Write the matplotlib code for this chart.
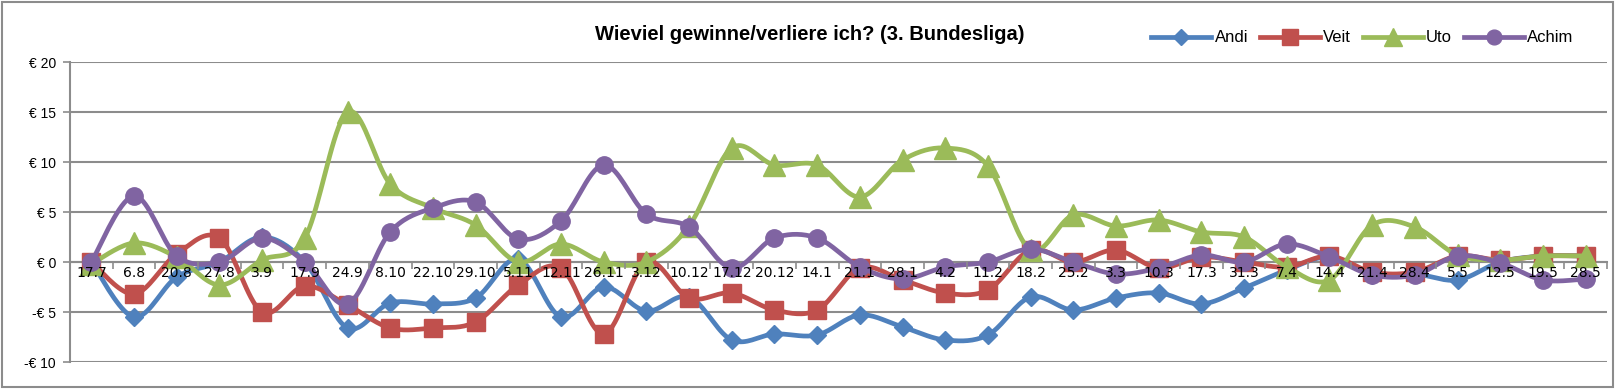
import matplotlib
matplotlib.use("Agg")
import matplotlib.pyplot as plt
from matplotlib.lines import Line2D
from matplotlib.patches import Rectangle
from matplotlib.ticker import FixedLocator
import numpy as np

# data
dates = ['17.7', '6.8', '20.8', '27.8', '3.9', '17.9', '24.9', '8.10', '22.10', '29.10',
         '5.11', '12.11', '26.11', '3.12', '10.12', '17.12', '20.12', '14.1', '21.1', '28.1',
         '4.2', '11.2', '18.2', '25.2', '3.3', '10.3', '17.3', '31.3', '7.4', '14.4',
         '21.4', '28.4', '5.5', '12.5', '19.5', '28.5']

andi = [0, -5.5, -1.5, 0, 2.5, 0, -6.6, -4.1, -4.2, -3.6,
        0.3, -5.5, -2.5, -4.9, -3.5, -7.8, -7.2, -7.3, -5.3, -6.5,
        -7.8, -7.3, -3.5, -4.8, -3.6, -3.1, -4.2, -2.6, -0.8, 0.5,
        -1.3, -1.2, -1.8, 0, 0.6, 0.6]
veit = [0, -3.2, 0.8, 2.4, -5.0, -2.4, -4.3, -6.6, -6.6, -6.0,
        -2.3, -0.6, -7.2, 0, -3.6, -3.1, -4.8, -4.8, -0.6, -1.8,
        -3.1, -2.8, 1.2, 0, 1.2, -0.6, 0.5, 0, -0.5, 0.6,
        -1.0, -1.0, 0.6, 0.2, 0.6, 0.6]
uto = [-0.2, 1.9, 0.5, -2.3, 0.2, 2.4, 15.0, 7.8, 5.4, 3.7,
       0, 1.8, 0, 0, 3.6, 11.4, 9.7, 9.7, 6.5, 10.2,
       11.4, 9.6, 1.2, 4.7, 3.6, 4.2, 3.0, 2.5, -0.5, -1.8,
       3.7, 3.5, 0.7, 0.2, 0.6, 0.6]
achim = [0, 6.6, 0.6, 0, 2.4, 0, -4.2, 3.0, 5.4, 6.0,
         2.3, 4.1, 9.7, 4.8, 3.5, -0.6, 2.4, 2.4, -0.5, -1.7,
         -0.5, 0, 1.3, 0, -1.2, -0.6, 0.7, 0, 1.8, 0.5,
         -1.3, -1.3, 0.6, -0.1, -1.8, -1.7]

names = ['Andi', 'Veit', 'Uto', 'Achim']
values = [andi, veit, uto, achim]
colors = ['#4F81BD', '#C0504D', '#9BBB59', '#8064A2']
markers = ['D', 's', '^', 'o']
msizes = [9.5, 13.5, 15.5, 12.5]

yticks = [-10, -5, 0, 5, 10, 15, 20]
ylabels = ['-€ 10', '-€ 5', '€ 0', '€ 5', '€ 10', '€ 15', '€ 20']


def smooth(xs, ys, n=20):
    # Excel-style smoothed line (bezier, catmull-rom control points)
    P = np.column_stack([xs, ys]).astype(float)
    P = np.vstack([P[0], P, P[-1]])
    t = np.linspace(0, 1, n)[:, None]
    segs = []
    for i in range(1, len(P) - 2):
        p0, p1, p2, p3 = P[i - 1], P[i], P[i + 1], P[i + 2]
        c1 = p1 + (p2 - p0) / 6
        c2 = p2 - (p3 - p1) / 6
        segs.append((1 - t) ** 3 * p1 + 3 * (1 - t) ** 2 * t * c1
                    + 3 * (1 - t) * t ** 2 * c2 + t ** 3 * p2)
    return np.vstack(segs)


fig = plt.figure(figsize=(16.16, 3.89), dpi=100)
ax = fig.add_axes([70 / 1616, 1 - 362 / 389, 1537 / 1616, 300 / 389])

x = np.arange(len(dates))
for k, (vals, c, m, ms) in enumerate(zip(values, colors, markers, msizes)):
    curve = smooth(x, vals)
    ax.plot(curve[:, 0], curve[:, 1], color=c, lw=3.4, zorder=3 + 2 * k,
            solid_capstyle='round')
    ax.plot(x, vals, ls='none', marker=m, ms=ms, color=c, mec=c, zorder=4 + 2 * k)

ax.set_xlim(-0.5, len(dates) - 0.5)
ax.set_ylim(-10, 20)
ax.set_yticks(yticks)
ax.set_yticklabels(ylabels, fontsize=10, family='Liberation Sans')
ax.tick_params(axis='y', length=5, width=1.2, color='#8C8C8C', pad=5)
ax.yaxis.grid(True, color='#8C8C8C', lw=1.5)
ax.set_axisbelow(True)

ax.set_xticks(x)
ax.set_xticklabels(dates, fontsize=11, family='Lato')
ax.xaxis.set_minor_locator(FixedLocator(np.arange(-0.5, len(dates), 1)))
ax.tick_params(axis='x', which='major', length=0, pad=3)
ax.tick_params(axis='x', which='minor', length=5, width=1.2, color='#8C8C8C')
# category labels sit on top of the lines, as in the original
ax.xaxis.set_zorder(20)

for s in ['top', 'right']:
    ax.spines[s].set_visible(False)
ax.spines['bottom'].set_position(('data', 0))
ax.spines['bottom'].set_color('#8C8C8C')
ax.spines['bottom'].set_linewidth(1.5)
ax.spines['bottom'].set_zorder(1)
ax.spines['left'].set_color('#8C8C8C')
ax.spines['left'].set_linewidth(1.5)

fig.text(810 / 1616, 1 - 34 / 389, 'Wieviel gewinne/verliere ich? (3. Bundesliga)',
         ha='center', va='center', fontsize=14.5, fontweight='bold',
         family='Liberation Sans')

handles = [Line2D([], [], color=c, lw=3.4, marker=m, ms=ms * 0.85, mec=c)
           for c, m, ms in zip(colors, markers, msizes)]
fig.legend(handles, names, loc='center left', bbox_to_anchor=(1143 / 1616, 1 - 38 / 389),
           ncol=4, frameon=False, borderpad=0, handlelength=3.6, handletextpad=0.2,
           columnspacing=0.7, prop={'family': 'Liberation Sans', 'size': 12})

fig.add_artist(Rectangle((2 / 1616, 2 / 389), 1611 / 1616, 385 / 389,
                         transform=fig.transFigure, fill=False,
                         edgecolor='#8C8C8C', lw=1.5))

fig.savefig('out.png', dpi=100)
